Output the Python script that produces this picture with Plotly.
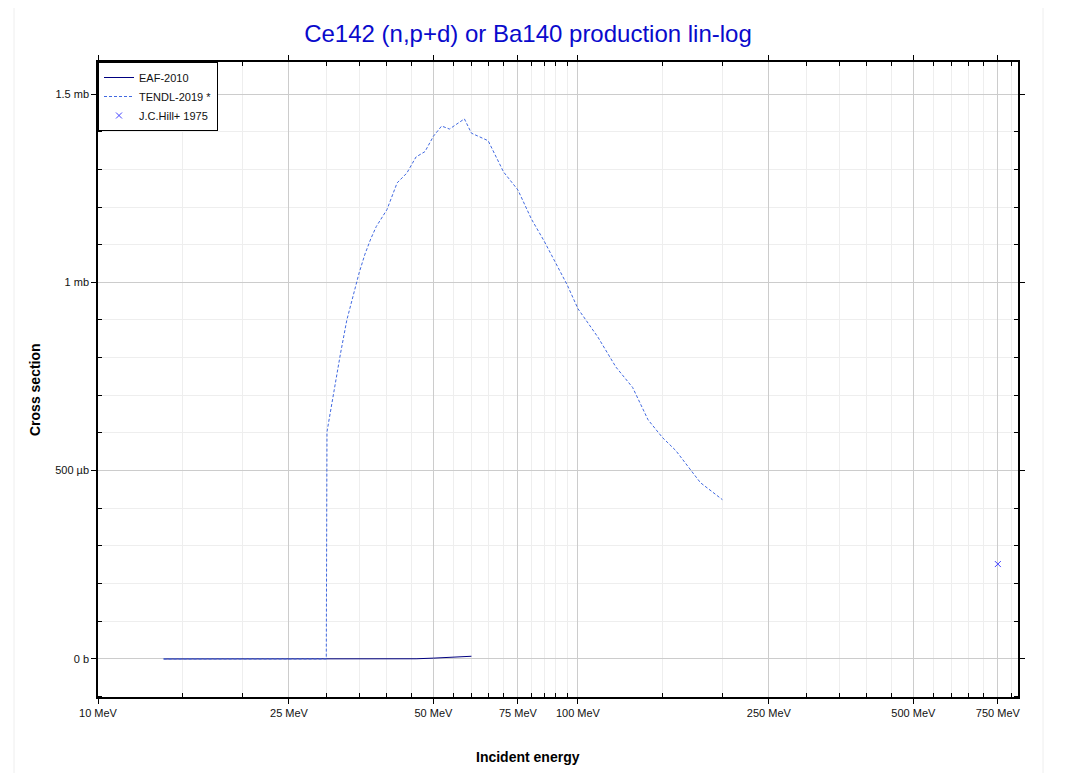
import plotly.graph_objects as go

# energies in MeV, cross sections in barns
eaf_energy = [13.7, 20, 30, 40, 46, 50, 55, 60]
eaf_xs = [0, 0, 1e-7, 3e-7, 5e-7, 2.2e-6, 4.8e-6, 7.2e-6]

tendl_energy = [13.7, 20, 25, 29.9, 30, 31, 32, 33, 34, 35, 36, 37, 38, 40, 42, 44, 46, 48,
                50, 52, 54, 56, 58, 60, 65, 70, 75, 80, 85, 90, 95, 100, 110, 120, 130,
                140, 150, 160, 170, 180, 190, 200]
tendl_xs_mb = [0, 0, 0, 0, 0.603, 0.71, 0.81, 0.90, 0.965, 1.025, 1.075, 1.115, 1.148, 1.193,
               1.264, 1.290, 1.333, 1.347, 1.388, 1.415, 1.407, 1.421, 1.434, 1.396, 1.376,
               1.293, 1.245, 1.168, 1.110, 1.050, 0.993, 0.930, 0.855, 0.775, 0.721, 0.635,
               0.588, 0.553, 0.508, 0.468, 0.445, 0.423]
tendl_xs = [v * 1e-3 for v in tendl_xs_mb]

hill_energy = [750]
hill_xs = [2.52e-4]

x_tickvals = [10, 25, 50, 75, 100, 250, 500, 750]
x_ticktext = ["10 MeV", "25 MeV", "50 MeV", "75 MeV", "100 MeV", "250 MeV", "500 MeV", "750 MeV"]
x_minor = [15, 20, 30, 35, 40, 45, 55, 60, 65, 70, 80, 85, 90, 95, 150, 200,
           300, 350, 400, 450, 550, 600, 650, 700, 800]

y_tickvals = [0, 0.5e-3, 1e-3, 1.5e-3]
y_ticktext = ["0 b", "500 µb", "1 mb", "1.5 mb"]
y_minor = [-0.1e-3] + [i * 1e-4 for i in range(1, 16) if i % 5 != 0]

font = "Liberation Sans, Arial, sans-serif"

# page body adds 8px offset, so figure is drawn 8px smaller
W, H = 1059, 765

fig = go.Figure()
fig.add_trace(go.Scatter(x=eaf_energy, y=eaf_xs, mode="lines", name="EAF-2010",
                         line=dict(color="#000080", width=1)))
fig.add_trace(go.Scatter(x=tendl_energy, y=tendl_xs, mode="lines", name="TENDL-2019 *",
                         line=dict(color="#4169e1", width=1, dash="3px,2px")))
fig.add_trace(go.Scatter(x=hill_energy, y=hill_xs, mode="markers", name="J.C.Hill+ 1975",
                         marker=dict(symbol="x-thin", size=6, color="#4444ff",
                                     line=dict(width=1, color="#4444ff"))))

fig.update_layout(
    width=W, height=H,
    margin=dict(l=90, r=49, t=54, b=76),
    paper_bgcolor="white", plot_bgcolor="white",
    font=dict(family=font, size=11, color="#111"),
    title=dict(text="Ce142 (n,p+d) or Ba140 production lin-log",
               font=dict(size=24, color="#0a0acc"),
               x=(528 - 98) / 920, xref="paper", xanchor="center",
               y=1 - 26 / H, yref="container", yanchor="middle"),
    showlegend=True,
    legend=dict(x=0, y=1, xanchor="left", yanchor="top", bgcolor="white",
                bordercolor="black", borderwidth=1, font=dict(size=11),
                tracegroupgap=0),
)

fig.update_xaxes(
    type="log", range=[1, 2.917],
    tickvals=x_tickvals, ticktext=x_ticktext,
    ticks="outside", ticklen=5, tickcolor="black",
    showline=True, linecolor="black", linewidth=1.5, mirror="ticks",
    showgrid=True, gridcolor="#cccccc", gridwidth=1, zeroline=False,
    minor=dict(tickvals=x_minor, ticks="inside", ticklen=4, tickcolor="black",
               showgrid=True, gridcolor="#eeeeee"),
)
fig.update_yaxes(
    range=[-0.101e-3, 1.585e-3],
    tickvals=y_tickvals, ticktext=y_ticktext,
    ticks="outside", ticklen=5, tickcolor="black",
    showline=True, linecolor="black", linewidth=1.5, mirror="ticks",
    showgrid=True, gridcolor="#cccccc", gridwidth=1, zeroline=False,
    minor=dict(tickvals=y_minor, ticks="inside", ticklen=4, tickcolor="black",
               showgrid=True, gridcolor="#eeeeee"),
)

# axis titles
fig.add_annotation(text="Incident energy", xref="paper", yref="paper",
                   x=(528 - 98) / 920, y=(697 - 757) / 635, showarrow=False,
                   xanchor="center", yanchor="middle",
                   font=dict(size=14, weight="bold", color="black"))
fig.add_annotation(text="Cross section", xref="paper", yref="paper",
                   x=(35 - 98) / 920, y=(697 - 390) / 635, showarrow=False, textangle=-90,
                   xanchor="center", yanchor="middle",
                   font=dict(size=14, weight="bold", color="black"))

# faint outer frame
fig.add_shape(type="rect", xref="paper", yref="paper", layer="below",
              x0=(14 - 98) / 920, x1=(1043 - 98) / 920, y0=-0.2, y1=(697 - 4) / 635,
              line=dict(color="#eeeeee", width=1))

fig.write_html("out.html")
